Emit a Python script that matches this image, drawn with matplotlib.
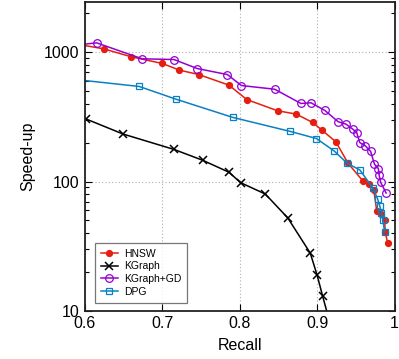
import matplotlib as mpl
import matplotlib.pyplot as plt
from matplotlib.ticker import LogLocator, NullFormatter, FixedLocator

mpl.rcParams["font.family"] = ["Liberation Sans", "DejaVu Sans"]

# recall / speed-up
hnsw_recall = [0.58, 0.624, 0.660, 0.700, 0.722, 0.747, 0.786, 0.809, 0.849, 0.873,
               0.894, 0.906, 0.924, 0.940, 0.959, 0.967, 0.973, 0.977, 0.982, 0.987,
               0.988, 0.991]
hnsw_speed = [1180, 1061, 920, 817, 726, 671, 556, 430, 352, 332,
              286, 250, 203, 138, 101, 96, 86.5, 58.8, 56.4, 50.1,
              40.5, 33.4]

kgraph_recall = [0.601, 0.649, 0.715, 0.752, 0.786, 0.801, 0.833, 0.862, 0.891, 0.900,
                 0.907, 0.9155]
kgraph_speed = [305, 233, 177, 146, 118, 98, 80, 52.3, 28, 18.8,
                13, 8.5]

gd_recall = [0.58, 0.615, 0.674, 0.715, 0.745, 0.784, 0.802, 0.845, 0.879, 0.892,
             0.910, 0.927, 0.937, 0.946, 0.951, 0.955, 0.962, 0.969, 0.974, 0.979,
             0.980, 0.982, 0.989]
gd_speed = [1120, 1180, 888, 877, 747, 671, 552, 517, 401, 406,
            354, 290, 278, 254, 239, 200, 189, 171, 136, 126,
            112, 98.5, 81.5]

dpg_recall = [0.55, 0.670, 0.717, 0.791, 0.865, 0.899, 0.922, 0.939, 0.955, 0.972,
              0.978, 0.981, 0.983, 0.985, 0.987]
dpg_speed = [650, 543, 434, 313, 244, 215, 172, 138, 123, 89,
             73.4, 64.3, 57.2, 50.1, 40.8]

TICK_FONT_SIZE = 11.5
LABEL_FONT_SIZE = 11.5
LEGEND_FONT_SIZE = 7.5
LINE_WIDTH = 1.1

fig = plt.figure(figsize=(3.99, 3.59), dpi=100)
ax = fig.add_axes([0.213, 0.134, 0.776, 0.861])

ax.plot(hnsw_recall, hnsw_speed, "-", color="#e51e10", marker="o", markersize=4.2,
        linewidth=LINE_WIDTH, label="HNSW")
ax.plot(kgraph_recall, kgraph_speed, "-", color="black", marker="x", markersize=5.5,
        markeredgewidth=1.1, linewidth=LINE_WIDTH, label="KGraph")
ax.plot(gd_recall, gd_speed, "-", color="#9400d3", marker="o", markersize=5.5,
        markerfacecolor="none", markeredgewidth=0.9, linewidth=LINE_WIDTH, label="KGraph+GD")
ax.plot(dpg_recall, dpg_speed, "-", color="#0a80c4", marker="s", markersize=5,
        markerfacecolor="none", markeredgewidth=0.9, linewidth=LINE_WIDTH, label="DPG")

ax.set_yscale("log")
ax.set_xlim(0.6, 1.0)
ax.set_ylim(10, 2450)
ax.xaxis.set_major_locator(FixedLocator([0.6, 0.7, 0.8, 0.9, 1.0]))
ax.set_xticklabels(["0.6", "0.7", "0.8", "0.9", "1"])
ax.yaxis.set_major_locator(FixedLocator([10, 100, 1000]))
ax.set_yticklabels(["10", "100", "1000"])
ax.yaxis.set_minor_locator(LogLocator(base=10, subs=range(2, 10)))
ax.yaxis.set_minor_formatter(NullFormatter())

ax.tick_params(axis="both", which="both", direction="in", top=True, right=True,
               labelsize=TICK_FONT_SIZE)
ax.tick_params(axis="both", which="major", length=5, width=0.8, pad=4)
ax.tick_params(axis="y", which="minor", length=3, width=0.8)
ax.grid(True, which="major", linestyle=(0, (1, 2)), color="#b0b0b0", linewidth=0.8)
for sp in ax.spines.values():
    sp.set_linewidth(1.3)
    sp.set_color("#222222")

ax.set_xlabel("Recall", fontsize=LABEL_FONT_SIZE, labelpad=5)
ax.set_ylabel("Speed-up", fontsize=LABEL_FONT_SIZE, labelpad=6)

leg = ax.legend(loc="lower left", bbox_to_anchor=(0.031, 0.026), borderaxespad=0,
                fontsize=LEGEND_FONT_SIZE, fancybox=False, edgecolor="#555555",
                handlelength=1.6, labelspacing=0.25, borderpad=0.6, handletextpad=0.6)
leg.get_frame().set_linewidth(0.9)

plt.savefig("out.png", dpi=100)
